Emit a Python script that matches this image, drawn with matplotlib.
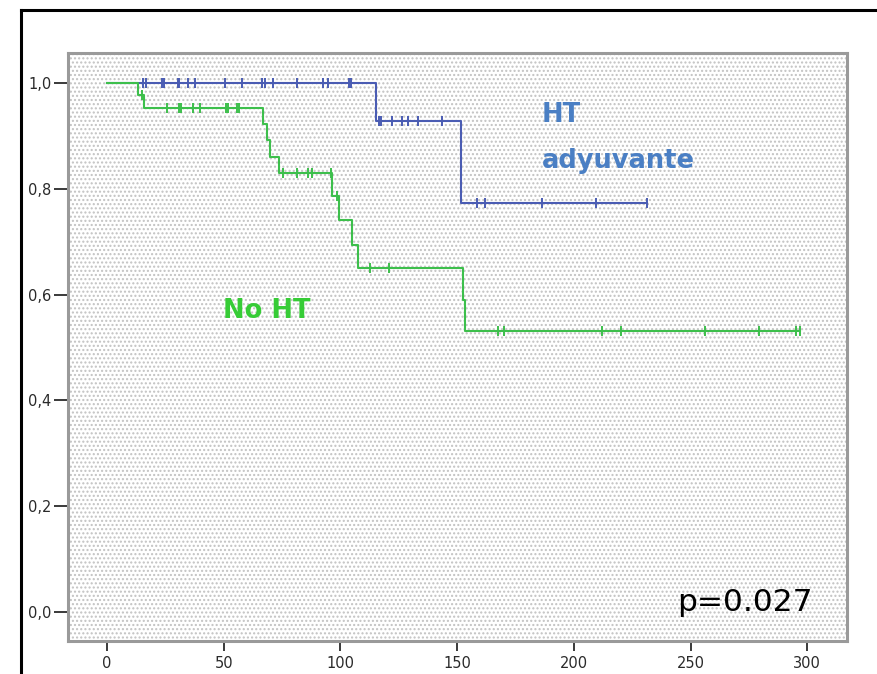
import matplotlib
matplotlib.use("Agg")
import matplotlib.pyplot as plt
import numpy as np
from matplotlib.patches import Rectangle
from matplotlib.lines import Line2D

# HT adyuvante (blue): event times and survival levels (level i holds before step i)
ht_steps = [115.3, 151.7]
ht_levels = [1.0, 0.929, 0.774]
ht_censored = [15.6, 16.5, 23.6, 24.6, 30.4, 31.0, 34.6, 37.6, 50.6, 57.7,
               66.5, 67.5, 71.3, 81.4, 92.7, 94.6, 103.5, 104.5,
               116.7, 117.5, 122.0, 126.3, 129.1, 133.4, 143.4,
               158.4, 162.0, 186.3, 209.4, 231.3]

# No HT (green)
no_steps = [13.4, 15.8, 66.7, 68.4, 69.9, 73.7, 96.3, 99.4, 105.1, 107.7, 152.4, 153.4]
no_levels = [1.0, 0.977, 0.953, 0.922, 0.892, 0.861, 0.831, 0.786, 0.741,
             0.694, 0.650, 0.590, 0.532]
no_censored = [14.8, 25.6, 30.9, 31.6, 36.7, 39.9, 51.0, 52.0, 55.6, 56.7,
               75.6, 81.6, 86.3, 87.7, 95.9, 98.4, 112.7, 120.6,
               167.3, 170.1, 212.2, 220.3, 256.3, 279.1, 295.1, 296.7]

x_ticks = [0, 50, 100, 150, 200, 250, 300]
y_ticks = [0.0, 0.2, 0.4, 0.6, 0.8, 1.0]
y_labels = ["0,0", "0,2", "0,4", "0,6", "0,8", "1,0"]

BLUE_LINE = "#4a5cb3"
GREEN_LINE = "#3dbf4c"
BLUE_TEXT = "#4a7fc4"
GREEN_TEXT = "#36cc36"


def km_curve(ax, steps, levels, censored, color):
    steps = np.asarray(steps)
    levels = np.asarray(levels)
    end = max(censored)
    xs = np.concatenate([[0.0], steps, [end]])
    ys = np.concatenate([levels, [levels[-1]]])
    ax.step(xs, ys, where="post", color=color, lw=1.5, zorder=3)
    c = np.asarray(censored)
    cy = levels[np.searchsorted(steps, c, side="right")]
    ax.plot(c, cy, ls="none", marker="|", ms=7, mew=1.4, color=color, zorder=4)


fig = plt.figure(figsize=(8.77, 6.74), dpi=100)
ax = fig.add_axes([68 / 877, 1 - 641 / 674, 779 / 877, 588 / 674])

# dotted grey background
plt.rcParams["hatch.linewidth"] = 1.0
bg = Rectangle((0, 0), 1, 1, transform=ax.transAxes, facecolor="white",
               edgecolor="#c2c2c2", hatch="....", lw=0, zorder=0)
ax.add_patch(bg)

km_curve(ax, ht_steps, ht_levels, ht_censored, BLUE_LINE)
km_curve(ax, no_steps, no_levels, no_censored, GREEN_LINE)

ax.set_xlim(-16.7, 317)
ax.set_ylim(-0.055, 1.057)
ax.set_xticks(x_ticks)
ax.set_yticks(y_ticks)
ax.set_yticklabels(y_labels)
ax.tick_params(axis="y", length=10, width=1.3, pad=2, labelsize=10.5, colors="#2a2a2a")
ax.tick_params(axis="x", length=7, width=1.3, pad=4, labelsize=10.5, colors="#2a2a2a")
for s in ax.spines.values():
    s.set_color("#9a9a9a")
    s.set_linewidth(2.2)

ax.text(186.4, 0.926, "HT", color=BLUE_TEXT, fontsize=18.5, fontweight="bold")
ax.text(186.4, 0.839, "adyuvante", color=BLUE_TEXT, fontsize=18.5, fontweight="bold")
ax.text(49.7, 0.556, "No HT", color=GREEN_TEXT, fontsize=18.5, fontweight="bold")
ax.text(244.3, 0.002, "p=0.027", color="black", fontsize=22.5)

# outer black frame (left and top edges visible)
fig.add_artist(Line2D([21 / 877, 21 / 877], [0, 1 - 10 / 674], color="black", lw=2.2))
fig.add_artist(Line2D([21 / 877, 1], [1 - 10 / 674, 1 - 10 / 674], color="black", lw=2.2))

fig.savefig("out.png", dpi=100)
